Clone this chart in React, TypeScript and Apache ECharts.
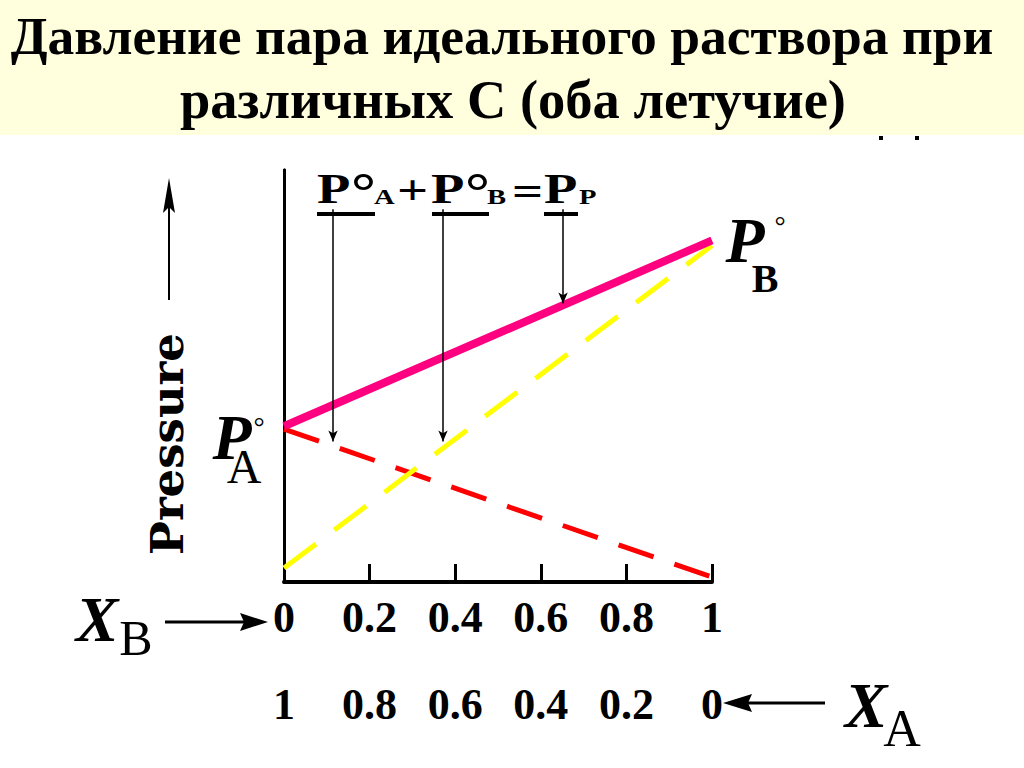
import React, { useEffect, useRef } from "react";
import * as echarts from "echarts";

const titleLines = ["Давление пара идеального раствора при", "различных С (оба летучие)"];
const xB = [0, 1];
const totalP = [37.8, 82.9];
const partialA = [37.1, 1.2];
const partialB = [3.4, 81.7];
const xBTickLabels = ["0", "0.2", "0.4", "0.6", "0.8", "1"];
const xATickLabels = ["1", "0.8", "0.6", "0.4", "0.2", "0"];
const arrowX = [0.1145, 0.3715, 0.652];
const arrowFrom = [90.5, 90.5, 90.5];
const arrowTo = [34.1, 34.1, 67.6];

const SERIF = "Liberation Serif";

function txt(text: string, x: number, y: number, size: number, opts: any = {}) {
  return {
    type: "text",
    x,
    y,
    scaleX: opts.scaleX ?? 1,
    rotation: opts.rotation ?? 0,
    style: {
      text,
      fill: "#000",
      fontSize: size,
      fontWeight: opts.weight ?? "bold",
      fontStyle: opts.style ?? "normal",
      fontFamily: opts.family ?? SERIF,
      align: opts.align ?? "center",
      verticalAlign: "middle",
    },
  };
}

export default function App() {
  const ref = useRef<HTMLDivElement>(null);
  useEffect(() => {
    if (!ref.current) return;
    const chart = echarts.init(ref.current, null, { renderer: "svg" });
    const idx = (v: number) => Math.round(v / 0.2);
    const fx = (t: string, x: number, y: number, s: number, sx = 1.3) =>
      txt(t, x, y, s, { align: "left", scaleX: sx });
    const tickLabel = {
      margin: 13,
      color: "#000",
      fontSize: 44,
      fontWeight: "bold",
      fontFamily: SERIF,
    };
    chart.setOption({
      animation: false,
      backgroundColor: "#fff",
      grid: { left: 284, right: 312, top: 170, bottom: 186 },
      xAxis: [
        {
          type: "value",
          min: 0,
          max: 1,
          interval: 0.2,
          position: "bottom",
          axisLine: { show: true, lineStyle: { color: "#000", width: 4 } },
          axisTick: { show: true, inside: true, length: 18, lineStyle: { color: "#000", width: 3 } },
          splitLine: { show: false },
          axisLabel: { ...tickLabel, formatter: (v: number) => xBTickLabels[idx(v)] },
        },
        {
          type: "value",
          min: 0,
          max: 1,
          interval: 0.2,
          position: "bottom",
          offset: 87,
          axisLine: { show: false },
          axisTick: { show: false },
          splitLine: { show: false },
          axisLabel: { ...tickLabel, formatter: (v: number) => xATickLabels[idx(v)] },
        },
      ],
      yAxis: [
        {
          type: "value",
          min: 0,
          max: 100,
          position: "left",
          axisLine: { show: true, lineStyle: { color: "#000", width: 3 } },
          axisTick: { show: false },
          axisLabel: { show: false },
          splitLine: { show: false },
        },
        {
          type: "value",
          min: 0,
          max: 100,
          position: "right",
          axisLine: { show: true, lineStyle: { color: "#000", width: 3 } },
          axisTick: { show: false },
          axisLabel: { show: false },
          splitLine: { show: false },
        },
      ],
      series: [
        {
          type: "line",
          name: "P°A",
          symbol: "none",
          data: xB.map((x, i) => [x, partialA[i]]),
          lineStyle: { color: "#FF0000", width: 5, type: [37, 22], cap: "butt" },
          silent: true,
        },
        {
          type: "line",
          name: "P°B",
          symbol: "none",
          data: xB.map((x, i) => [x, partialB[i]]),
          lineStyle: { color: "#FFFF00", width: 5, type: [40, 23], cap: "butt" },
          silent: true,
        },
        {
          type: "line",
          name: "P",
          symbol: "none",
          data: xB.map((x, i) => [x, totalP[i]]),
          lineStyle: { color: "#FF0080", width: 8 },
          silent: true,
          markLine: {
            silent: true,
            symbol: ["none", "arrow"],
            symbolSize: [7, 11],
            label: { show: false },
            lineStyle: { color: "#000", width: 1.5, type: "solid" },
            emphasis: { disabled: true },
            data: arrowX.map((x, i) => [{ coord: [x, arrowFrom[i]] }, { coord: [x, arrowTo[i]] }]),
          },
        },
      ],
      graphic: [
        { type: "rect", z: -10, shape: { x: 0, y: 0, width: 1024, height: 135 }, style: { fill: "#FFFFDD" } },
        { type: "rect", shape: { x: 879, y: 136, width: 4, height: 4 }, style: { fill: "#000" } },
        { type: "rect", shape: { x: 915, y: 136, width: 4, height: 4 }, style: { fill: "#000" } },
        txt(titleLines[0], 502, 36, 53.5),
        txt(titleLines[1], 513, 99, 54.5),
        // formula
        fx("P", 317, 189, 42),
        fx("°", 351, 191, 52, 1.2),
        fx("A", 374, 197, 22),
        fx("+", 397, 190, 42),
        fx("P", 431, 189, 42),
        fx("°", 465, 191, 52, 1.2),
        fx("B", 487, 197, 22),
        fx("=", 512, 191, 42),
        fx("P", 544, 189, 42),
        fx("P", 579, 197, 22),
        { type: "rect", shape: { x: 317, y: 212, width: 58, height: 4 }, style: { fill: "#000" } },
        { type: "rect", shape: { x: 432, y: 212, width: 57, height: 4 }, style: { fill: "#000" } },
        { type: "rect", shape: { x: 544, y: 212, width: 34, height: 4 }, style: { fill: "#000" } },
        // Pressure label + arrow
        txt("Pressure", 167, 444, 45, { rotation: Math.PI / 2, family: "DejaVu Serif" }),
        { type: "line", shape: { x1: 169, y1: 300, x2: 169, y2: 205 }, style: { stroke: "#000", lineWidth: 2 } },
        { type: "polygon", shape: { points: [[169, 178], [175, 213], [169, 207], [163, 213]] }, style: { fill: "#000" } },
        // P_A°
        txt("P", 232, 437, 64, { style: "italic" }),
        txt("A", 244, 466, 48, { weight: "normal" }),
        txt("°", 259, 426, 28, { weight: "normal" }),
        // P_B°
        txt("P", 745, 240, 64, { style: "italic" }),
        txt("B", 765, 278, 40),
        txt("°", 780, 225, 28, { weight: "normal" }),
        // X_B
        txt("X", 97, 619, 64, { style: "italic" }),
        txt("B", 136, 638, 50, { weight: "normal" }),
        { type: "line", shape: { x1: 165, y1: 622, x2: 245, y2: 622 }, style: { stroke: "#000", lineWidth: 3 } },
        { type: "polygon", shape: { points: [[268, 622], [240, 613], [244, 622], [240, 631]] }, style: { fill: "#000" } },
        // X_A
        txt("X", 866, 705, 64, { style: "italic" }),
        txt("A", 902, 728, 52, { weight: "normal" }),
        { type: "line", shape: { x1: 748, y1: 703, x2: 825, y2: 703 }, style: { stroke: "#000", lineWidth: 3 } },
        { type: "polygon", shape: { points: [[723, 703], [752, 694], [748, 703], [752, 712]] }, style: { fill: "#000" } },
      ],
    });
    return () => chart.dispose();
  }, []);
  return <div ref={ref} style={{ position: "absolute", left: 0, top: 0, width: 1024, height: 768 }} />;
}
